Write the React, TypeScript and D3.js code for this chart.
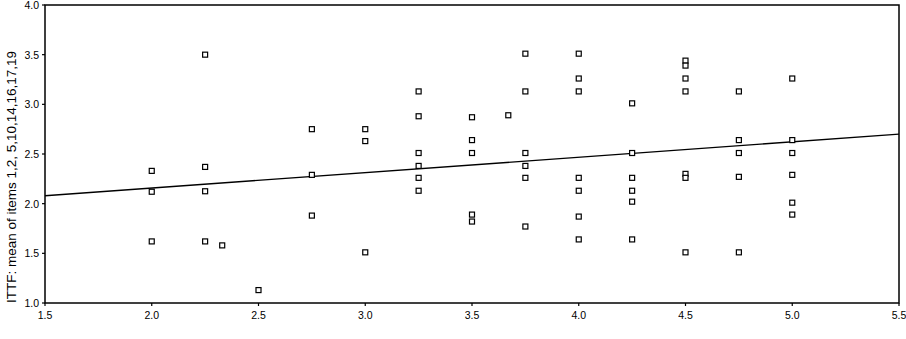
import React from "react";
import * as d3 from "d3";

const W = 906;
const H = 339;

const xTicks = [1.5, 2.0, 2.5, 3.0, 3.5, 4.0, 4.5, 5.0, 5.5];
const yTicks = [1.0, 1.5, 2.0, 2.5, 3.0, 3.5, 4.0];

const xValues = [
  2.0, 2.0, 2.0,
  2.25, 2.25, 2.25, 2.25,
  2.33,
  2.5,
  2.75, 2.75, 2.75,
  3.0, 3.0, 3.0,
  3.25, 3.25, 3.25, 3.25, 3.25, 3.25,
  3.5, 3.5, 3.5, 3.5, 3.5,
  3.67,
  3.75, 3.75, 3.75, 3.75, 3.75, 3.75,
  4.0, 4.0, 4.0, 4.0, 4.0, 4.0, 4.0,
  4.25, 4.25, 4.25, 4.25, 4.25, 4.25,
  4.5, 4.5, 4.5, 4.5, 4.5, 4.5, 4.5,
  4.75, 4.75, 4.75, 4.75, 4.75,
  5.0, 5.0, 5.0, 5.0, 5.0, 5.0,
];
const yValues = [
  2.33, 2.12, 1.62,
  3.5, 2.37, 2.125, 1.62,
  1.58,
  1.13,
  2.75, 2.29, 1.88,
  2.75, 2.63, 1.51,
  3.13, 2.88, 2.51, 2.38, 2.26, 2.13,
  2.87, 2.64, 2.51, 1.89, 1.82,
  2.89,
  3.51, 3.13, 2.51, 2.38, 2.26, 1.77,
  3.51, 3.26, 3.13, 2.26, 2.13, 1.87, 1.64,
  3.01, 2.51, 2.26, 2.13, 2.02, 1.64,
  3.44, 3.39, 3.26, 3.13, 2.3, 2.26, 1.51,
  3.13, 2.64, 2.51, 2.27, 1.51,
  3.26, 2.64, 2.51, 2.29, 2.01, 1.89,
];

const fitX = [1.5, 5.5];
const fitY = [2.08, 2.7];

const yLabel = "ITTF: mean of items 1,2, 5,10,14,16,17,19";

export default function App() {
  const x = d3.scaleLinear().domain([1.5, 5.5]).range([45, 899]);
  const y = d3.scaleLinear().domain([1.0, 4.0]).range([303, 5]);
  const line = d3
    .line<number>()
    .x((_, i) => x(fitX[i]))
    .y((d) => y(d));
  const font = "Arial, 'Liberation Sans', sans-serif";
  const ms = 5;
  return (
    <svg
      width={W}
      height={H}
      style={{ position: "absolute", left: 0, top: 0, background: "#fff" }}
      fontFamily={font}
    >
      <rect x={0} y={0} width={W} height={H} fill="#fff" />
      <rect
        x={x(1.5)}
        y={y(4.0)}
        width={x(5.5) - x(1.5)}
        height={y(1.0) - y(4.0)}
        fill="none"
        stroke="#000"
        strokeWidth={1.5}
      />
      {yTicks.map((t) => (
        <g key={"y" + t}>
          <line x1={x(1.5) - 3} x2={x(1.5)} y1={y(t)} y2={y(t)} stroke="#000" strokeWidth={1.2} />
          <text
            x={x(1.5) - 6}
            y={y(t)}
            textAnchor="end"
            dominantBaseline="central"
            fontSize={10.5}
            fill="#000"
          >
            {t.toFixed(1)}
          </text>
        </g>
      ))}
      {xTicks.map((t) => (
        <g key={"x" + t}>
          <line x1={x(t)} x2={x(t)} y1={y(1.0)} y2={y(1.0) + 3} stroke="#000" strokeWidth={1.2} />
          <text
            x={x(t)}
            y={y(1.0) + 12}
            textAnchor="middle"
            dominantBaseline="central"
            fontSize={10.5}
            fill="#000"
          >
            {t.toFixed(1)}
          </text>
        </g>
      ))}
      <text
        transform={`translate(11, 177) rotate(-90)`}
        textAnchor="middle"
        dominantBaseline="central"
        fontSize={13.5}
        fill="#000"
      >
        {yLabel}
      </text>
      <path d={line(fitY) || ""} fill="none" stroke="#000" strokeWidth={1.4} />
      {xValues.map((xv, i) => (
        <rect
          key={i}
          x={x(xv) - ms / 2}
          y={y(yValues[i]) - ms / 2}
          width={ms}
          height={ms}
          fill="#fff"
          stroke="#000"
          strokeWidth={1.2}
        />
      ))}
    </svg>
  );
}
